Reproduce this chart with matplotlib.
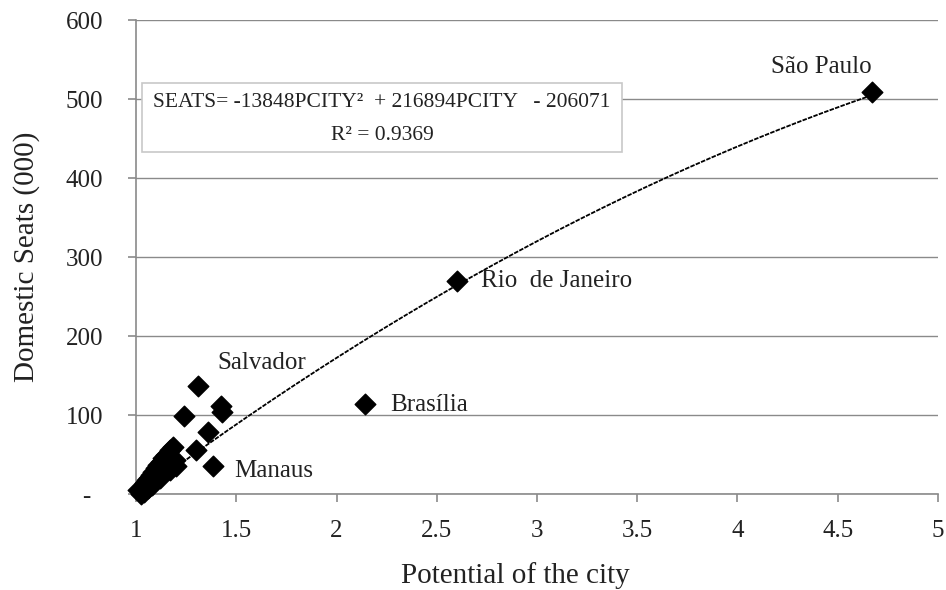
import numpy as np
import matplotlib
matplotlib.use("Agg")
import matplotlib.pyplot as plt
from matplotlib.patches import Rectangle

# ---- data ----
pcity = [4.67, 2.60, 2.14, 1.385, 1.308, 1.241, 1.423, 1.43, 1.361, 1.298, 1.183,
         1.025, 1.035, 1.045, 1.055, 1.065, 1.075, 1.085, 1.10, 1.11, 1.125, 1.135,
         1.15, 1.17, 1.195, 1.20, 1.17, 1.025, 1.01, 1.08, 1.12, 1.04, 1.06]
seats = [509, 270, 114, 36, 137, 99, 112, 104, 79, 56, 59,
         6, 10, 14, 18, 20, 24, 28, 33, 37, 41, 45,
         50, 56, 43, 36, 31, 0, 5, 11, 20, 3, 8]

city_names = ["São Paulo", "Rio  de Janeiro", "Brasília", "Salvador", "Manaus"]
label_x = [4.165, 2.72, 2.266, 1.404, 1.488]
label_y = [540, 270, 113, 166, 29]

trend_coef = [-13848, 216894, -206071]   # SEATS (units) = a*P^2 + b*P + c
trend_range = [1.02, 4.67]

x_ticks = [1, 1.5, 2, 2.5, 3, 3.5, 4, 4.5, 5]
x_tick_labels = ["1", "1.5", "2", "2.5", "3", "3.5", "4", "4.5", "5"]
y_ticks = [0, 100, 200, 300, 400, 500, 600]
y_tick_labels = ["-  ", "100", "200", "300", "400", "500", "600"]

eq_line1 = "SEATS= -13848PCITY²  + 216894PCITY   - 206071"
eq_line2 = "R² = 0.9369"

# ---- plot ----
plt.rcParams['font.family'] = ['Liberation Serif', 'DejaVu Serif']
fig = plt.figure(figsize=(9.46, 5.90), dpi=100)
ax = fig.add_axes([0.1438, 0.1627, 0.8477, 0.8033])

grey = "#8a8a8a"
txt = "#222222"
ax.set_xlim(1, 5)
ax.set_ylim(0, 600)
ax.set_yticks(y_ticks)
ax.set_yticklabels(y_tick_labels)
ax.set_xticks(x_ticks)
ax.set_xticklabels(x_tick_labels)
ax.yaxis.grid(True, color=grey, linewidth=1.0)
ax.set_axisbelow(True)
for s in ["top", "right"]:
    ax.spines[s].set_visible(False)
for s in ["left", "bottom"]:
    ax.spines[s].set_color(grey)
    ax.spines[s].set_linewidth(1.2)
ax.tick_params(axis="both", direction="out", color=grey, length=6, width=1.2,
               labelsize=18, labelcolor=txt)
ax.tick_params(axis="y", pad=17.5)
ax.tick_params(axis="x", pad=12.5)

xt = np.linspace(trend_range[0], trend_range[1], 300)
yt = np.polyval(trend_coef, xt) / 1000.0
ax.plot(xt, yt, color="black", linewidth=1.3, linestyle=(0, (2.5, 0.7)), zorder=3)

ax.scatter(pcity, seats, marker="D", s=110, color="black", zorder=4, clip_on=False)

for name, lx, ly in zip(city_names, label_x, label_y):
    ax.text(lx, ly, name, ha="left", va="center", fontsize=18, color=txt, zorder=5)

# equation box
ax.add_patch(Rectangle((0.0075, 0.7215), 0.5985, 0.1455, transform=ax.transAxes,
                       facecolor="white", edgecolor="#c8c8c8", linewidth=1.2, zorder=6))
ax.text(0.3067, 0.827, eq_line1, transform=ax.transAxes, ha="center", va="center",
        fontsize=15.5, color=txt, zorder=7)
ax.text(0.3067, 0.757, eq_line2, transform=ax.transAxes, ha="center", va="center",
        fontsize=15.5, color=txt, zorder=7)

ax.set_xlabel("Potential of the city", fontsize=21, color=txt)
ax.set_ylabel("Domestic Seats (000)", fontsize=21, color=txt)
ax.xaxis.label.set_va("center")
ax.yaxis.label.set_va("center")
ax.xaxis.set_label_coords(0.4726, -0.171)
ax.yaxis.set_label_coords(-0.137, 0.5)

fig.savefig("out.png", dpi=100)
